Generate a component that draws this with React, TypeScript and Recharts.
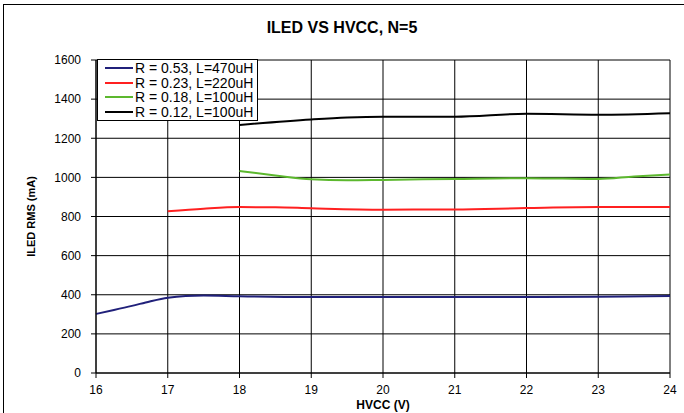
import { LineChart, Line, XAxis, YAxis, CartesianGrid } from 'recharts'

const xTicks = [16, 17, 18, 19, 20, 21, 22, 23, 24]
const yTicks = [0, 200, 400, 600, 800, 1000, 1200, 1400, 1600]

const hvccA = [16, 16.25, 16.5, 16.75, 17, 17.25, 17.5, 18, 19, 20, 21, 22, 23, 24]
const iledA = [302, 322, 343, 366, 385, 394, 396, 392, 388, 388, 388, 388, 390, 393]

const hvccB = [17, 17.5, 18, 18.5, 19, 20, 21, 22, 23, 24]
const iledB = [827, 840, 848, 847, 842, 835, 836, 843, 848, 848]

const hvccC = [18, 18.5, 19, 19.5, 20, 21, 22, 22.5, 23, 23.5, 24]
const iledC = [1033, 1010, 990, 985, 987, 992, 996, 994, 992, 1005, 1015]

const hvccD = [18, 19, 19.5, 20, 21, 22, 23, 24]
const iledD = [1268, 1296, 1306, 1310, 1310, 1325, 1320, 1328]

const seriesNames = ['R = 0.53, L=470uH', 'R = 0.23, L=220uH', 'R = 0.18, L=100uH', 'R = 0.12, L=100uH']
const colors = ['#20207a', '#ff2020', '#5cb82e', '#000000']

const zip = (xs: number[], ys: number[]) => xs.map((x, i) => ({ x, y: ys[i] }))
const series = [zip(hvccA, iledA), zip(hvccB, iledB), zip(hvccC, iledC), zip(hvccD, iledD)]

const font = '"Liberation Sans", Arial, sans-serif'

function LegendBox() {
  return (
    <div style={{ position: 'absolute', left: 97, top: 59, background: '#fff', border: '1px solid #000', padding: '1px 4px 1px 7px', fontFamily: font, fontSize: 14, lineHeight: '14.5px', color: '#000' }}>
      {seriesNames.map((n, i) => (
        <div key={n} style={{ display: 'flex', alignItems: 'center' }}>
          <span style={{ display: 'inline-block', width: 28, height: 2, background: colors[i], marginRight: 2 }} />
          <span>{n}</span>
        </div>
      ))}
    </div>
  )
}

export default function App() {
  return (
    <div style={{ position: 'fixed', left: 0, top: 0, width: 684, height: 413, overflow: 'hidden', background: '#fff' }}>
      <div style={{ position: 'absolute', left: 3, top: 4, width: 720, height: 440, border: '1px solid #000' }} />
      <div style={{ position: 'absolute', left: 0, top: 19, width: 684, textAlign: 'center', fontFamily: font, fontWeight: 'bold', fontSize: 16 }}>
        ILED VS HVCC, N=5
      </div>
      <div style={{ position: 'absolute', left: 0, top: 0 }}>
        <LineChart width={684} height={413} margin={{ top: 60, right: 14, left: 0, bottom: 0 }}>
          <CartesianGrid stroke="#000" strokeWidth={1} />
          <XAxis
            type="number"
            dataKey="x"
            domain={[16, 24]}
            ticks={xTicks}
            allowDuplicatedCategory={false}
            height={40}
            stroke="#000"
            tickSize={5}
            tickMargin={7}
            tick={{ fontSize: 12, fill: '#000', fontFamily: font }}
          />
          <YAxis
            type="number"
            domain={[0, 1600]}
            ticks={yTicks}
            width={96}
            stroke="#000"
            tickSize={5}
            tickMargin={10}
            tick={{ fontSize: 12, fill: '#000', fontFamily: font }}
            label={{ value: 'ILED RMS (mA)', angle: -90, position: 'insideLeft', offset: 31, style: { textAnchor: 'middle', fontSize: 11, fontWeight: 'bold', fill: '#000', fontFamily: font } }}
          />
          {series.map((d, i) => (
            <Line
              key={seriesNames[i]}
              data={d}
              dataKey="y"
              name={seriesNames[i]}
              type="monotone"
              stroke={colors[i]}
              strokeWidth={2}
              dot={false}
              isAnimationActive={false}
            />
          ))}
        </LineChart>
      </div>
      <div style={{ position: 'absolute', left: 96, top: 398, width: 574, textAlign: 'center', fontFamily: font, fontWeight: 'bold', fontSize: 12, lineHeight: '14px' }}>
        HVCC (V)
      </div>
      <LegendBox />
    </div>
  )
}
